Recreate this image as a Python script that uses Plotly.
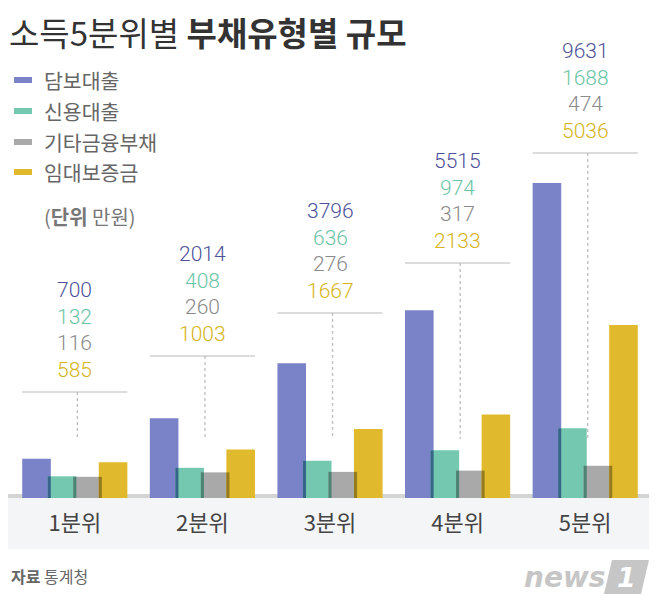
import plotly.graph_objects as go

# ---------------- data ----------------
categories = ["1분위", "2분위", "3분위", "4분위", "5분위"]
series_names = ["담보대출", "신용대출", "기타금융부채", "임대보증금"]
collateral_loans = [700, 2014, 3796, 5515, 9631]
credit_loans = [132, 408, 636, 974, 1688]
other_debt = [116, 260, 276, 317, 474]
rent_deposit = [585, 1003, 1667, 2133, 5036]
series_values = [collateral_loans, credit_loans, other_debt, rent_deposit]

# ---------------- styles / layout constants ----------------
PAGE = 8                      # default body margin of the html page
W, H = 658 - PAGE, 606 - PAGE
L, R, T, B = 3, 9, 32, 108
PW, PH = W - L - R, H - T - B
BAR_COLORS = ["#7a82c8", "#74c8b0", "#a9a9a9", "#e0ba2c"]
TEXT_COLORS = ["#4d5199", "#6cc4a6", "#8a8a8a", "#d6b420"]
OFFSET = 570          # visual floor: bars begin below the zero value
Y_MAX = 14266
BAR_W = 0.224
BAR_STEP = 0.2
OFFSETS = [-0.412 + BAR_STEP * k for k in range(4)]
LABEL_BASE = [2864, 4030, 5423, 7043, 10606]   # y (data units) of label rule per group
DOT_END = 1341                                   # y (data units) where dotted guide ends
FONT_KR = "Noto Sans CJK KR"


def px(x):
    """window pixel x -> paper"""
    return (x - PAGE - L) / PW


def py(y):
    """window pixel y -> paper"""
    return 1 - (y - PAGE - T) / PH


def hex2rgb(h):
    h = h.lstrip("#")
    return tuple(int(h[i:i + 2], 16) for i in (0, 2, 4))


def multiply(c1, c2):
    a, b = hex2rgb(c1), hex2rgb(c2)
    return "rgb(%d,%d,%d)" % tuple(int(x * y / 255) for x, y in zip(a, b))


fig = go.Figure()

for k, (name, vals) in enumerate(zip(series_names, series_values)):
    fig.add_trace(go.Bar(
        x=categories,
        y=[v + OFFSET for v in vals],
        base=-OFFSET,
        customdata=vals,
        hovertemplate=name + " %{x}: %{customdata}<extra></extra>",
        name=name,
        width=BAR_W,
        offset=OFFSETS[k],
        marker=dict(color=BAR_COLORS[k], line=dict(width=0)),
        showlegend=False,
    ))

# overlap strips (multiply-blend look where neighbouring bars overlap)
ov = BAR_W - BAR_STEP
for k in range(3):
    a, b = series_values[k], series_values[k + 1]
    fig.add_trace(go.Bar(
        x=categories,
        y=[min(u, v) + OFFSET for u, v in zip(a, b)],
        base=-OFFSET,
        width=ov,
        offset=OFFSETS[k + 1],
        marker=dict(color=multiply(BAR_COLORS[k], BAR_COLORS[k + 1]), line=dict(width=0)),
        hoverinfo="skip",
        showlegend=False,
    ))

shapes = []
annotations = []

# bottom category panel and baseline strip
shapes.append(dict(type="rect", xref="paper", yref="paper",
                   x0=px(8), x1=px(649), y0=py(549), y1=py(498),
                   fillcolor="#f4f5f7", line=dict(width=0), layer="below"))
shapes.append(dict(type="rect", xref="paper", yref="paper",
                   x0=px(8), x1=px(649), y0=py(498), y1=py(494),
                   fillcolor="#d4d4d4", line=dict(width=0), layer="below"))

# value labels per group
for i, cat in enumerate(categories):
    base_y = LABEL_BASE[i]
    shapes.append(dict(type="line", xref="x", yref="y",
                       x0=i + OFFSETS[0], x1=i + OFFSETS[3] + BAR_W,
                       y0=base_y, y1=base_y,
                       line=dict(color="#d0d0d0", width=1.5), layer="below"))
    shapes.append(dict(type="line", xref="x", yref="y",
                       x0=i + 0.02, x1=i + 0.02, y0=base_y, y1=DOT_END,
                       line=dict(color="#bdbdbd", width=1.3, dash="dot"), layer="below"))
    for k in range(4):
        annotations.append(dict(
            x=cat, y=base_y, xref="x", yref="y",
            text=str(series_values[k][i]),
            showarrow=False, yanchor="middle", xanchor="center",
            yshift=22 + 26.5 * (3 - k),
            font=dict(family="Roboto", size=21, color=TEXT_COLORS[k], weight=300),
        ))

# title
annotations.append(dict(
    x=px(7), y=py(32), xref="paper", yref="paper", xanchor="left", yanchor="middle",
    text="소득5분위별 <b>부채유형별 규모</b>", showarrow=False,
    font=dict(family=FONT_KR, size=33, color="#333333"),
))

# legend
legend_rows = [80, 111, 142, 172]
for k, name in enumerate(series_names):
    yy = legend_rows[k]
    shapes.append(dict(type="rect", xref="paper", yref="paper",
                       x0=px(14), x1=px(32), y0=py(yy + 3), y1=py(yy - 3),
                       fillcolor=BAR_COLORS[k], line=dict(width=0)))
    annotations.append(dict(
        x=px(42), y=py(yy), xref="paper", yref="paper", xanchor="left", yanchor="middle",
        text=name, showarrow=False,
        font=dict(family=FONT_KR, size=20.5, color="#666666"),
    ))

# unit note
annotations.append(dict(
    x=px(42), y=py(216), xref="paper", yref="paper", xanchor="left", yanchor="middle",
    text="(<b>단위</b> 만원)", showarrow=False,
    font=dict(family=FONT_KR, size=20, color="#777777"),
))

# source
annotations.append(dict(
    x=px(9), y=py(576), xref="paper", yref="paper", xanchor="left", yanchor="middle",
    text="<b>자료</b> 통계청", showarrow=False,
    font=dict(family=FONT_KR, size=16, color="#666666"),
))

# news1 logo
annotations.append(dict(
    x=px(607), y=py(577), xref="paper", yref="paper", xanchor="right", yanchor="middle",
    text="<b><i>news</i></b>", showarrow=False,
    font=dict(family="DejaVu Sans", size=28, color="#c6c6c6"),
))
shapes.append(dict(type="path", xref="paper", yref="paper",
                   path="M %f %f L %f %f L %f %f L %f %f Z" % (
                       px(612), py(560), px(649), py(560), px(641), py(594), px(604), py(594)),
                   fillcolor="#c6c6c6", line=dict(width=0)))
annotations.append(dict(
    x=px(626), y=py(577), xref="paper", yref="paper", xanchor="center", yanchor="middle",
    text="<b><i>1</i></b>", showarrow=False,
    font=dict(family="DejaVu Sans", size=27, color="#ffffff"),
))

fig.update_layout(
    width=W, height=H,
    margin=dict(l=L, r=R, t=T, b=B, pad=0),
    paper_bgcolor="white", plot_bgcolor="rgba(0,0,0,0)",
    barmode="overlay",
    shapes=shapes, annotations=annotations,
    xaxis=dict(type="category", range=[-0.5, 4.5], showgrid=False, zeroline=False,
               showline=False, ticks="", ticklabelstandoff=10,
               tickfont=dict(family=FONT_KR, size=22, color="#444444")),
    yaxis=dict(range=[-OFFSET, Y_MAX], showgrid=False, zeroline=False,
               showline=False, showticklabels=False, ticks=""),
    showlegend=False,
)

fig.write_html("out.html")
